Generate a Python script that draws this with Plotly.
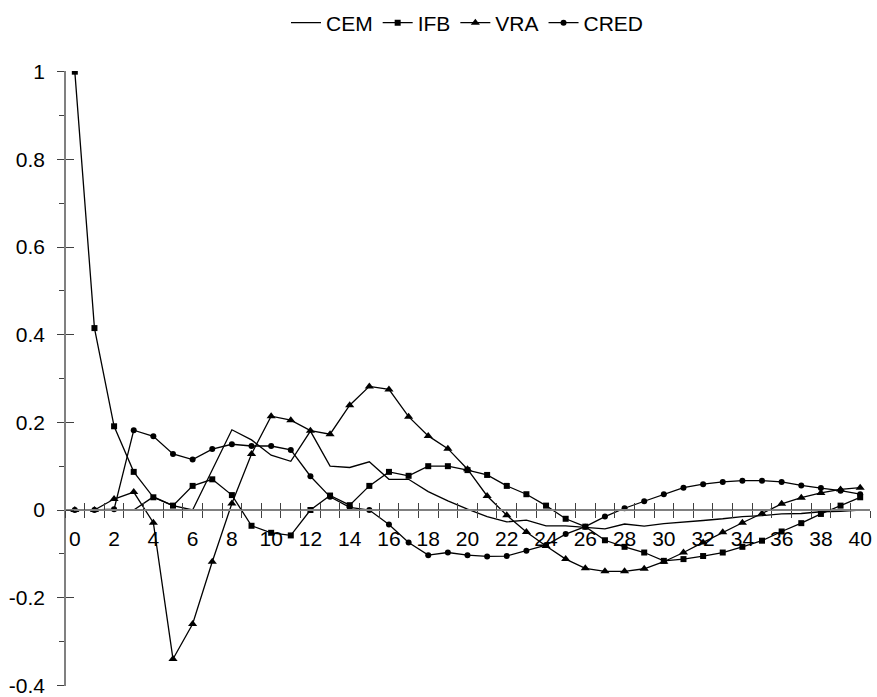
import plotly.graph_objects as go

# Impulse responses over 40 periods
lags = list(range(41))

cem = [0.0, 0.0, 0.0, 0.0, 0.03, 0.01, 0.0, 0.09, 0.183, 0.16,
       0.125, 0.111, 0.18, 0.1, 0.097, 0.11, 0.07, 0.07, 0.042, 0.021,
       0.002, -0.015, -0.027, -0.023, -0.036, -0.036, -0.04, -0.043, -0.032, -0.037,
       -0.031, -0.028, -0.024, -0.02, -0.015, -0.013, -0.009, -0.008, -0.004, -0.003,
       0.0]

ifb = [1.0, 0.415, 0.191, 0.087, 0.029, 0.01, 0.055, 0.07, 0.034, -0.036,
       -0.052, -0.058, 0.0, 0.033, 0.011, 0.055, 0.087, 0.078, 0.1, 0.1,
       0.091, 0.08, 0.055, 0.036, 0.01, -0.02, -0.038, -0.069, -0.084, -0.097,
       -0.116, -0.112, -0.105, -0.097, -0.084, -0.07, -0.049, -0.03, -0.009, 0.01,
       0.029]

vra = [0.0, 0.0, 0.025, 0.041, -0.029, -0.34, -0.26, -0.118, 0.015, 0.128,
       0.214, 0.205, 0.181, 0.173, 0.239, 0.282, 0.275, 0.213, 0.169, 0.14,
       0.093, 0.032, -0.012, -0.05, -0.082, -0.112, -0.133, -0.14, -0.14, -0.134,
       -0.118, -0.097, -0.074, -0.051, -0.029, -0.008, 0.014, 0.028, 0.039, 0.047,
       0.051]

cred = [0.0, 0.0, 0.002, 0.182, 0.168, 0.128, 0.115, 0.139, 0.15, 0.146,
        0.146, 0.137, 0.077, 0.03, 0.006, 0.0, -0.033, -0.074, -0.103, -0.097,
        -0.103, -0.106, -0.105, -0.093, -0.08, -0.055, -0.038, -0.015, 0.004, 0.02,
        0.036, 0.051, 0.059, 0.064, 0.067, 0.067, 0.064, 0.056, 0.05, 0.044,
        0.036]

x_labels = list(range(0, 41, 2))
x_bounds = [k - 0.5 for k in range(0, 42)]
y_major = [-0.4, -0.2, 0.0, 0.2, 0.4, 0.6, 0.8, 1.0]
y_major_text = ["-0.4", "-0.2", "0", "0.2", "0.4", "0.6", "0.8", "1"]

Y_MIN, Y_MAX = -0.4, 1.0
PAD = 0.0015
X_MIN, X_MAX = -0.5, 40.5
FONT = dict(family="Liberation Sans, Arial, sans-serif", size=21, color="black")
AXIS_GRAY = "#808080"
TICK_GRAY = "#404040"

fig = go.Figure()
series = [
    ("CEM", cem, None, 0),
    ("IFB", ifb, "square", 6),
    ("VRA", vra, "triangle-up", 8),
    ("CRED", cred, "circle", 6),
]
for name, vals, sym, size in series:
    trace = dict(x=lags, y=vals, name=name, line=dict(color="black", width=1.3))
    if sym is None:
        trace["mode"] = "lines"
    else:
        trace["mode"] = "lines+markers"
        trace["marker"] = dict(symbol=sym, size=size, color="black")
    fig.add_trace(go.Scatter(**trace))

# empty carriers so the overlaid tick axes get drawn
blank = [None] * len(lags)
for xa, ya in (("x2", "y"), ("x3", "y"), ("x", "y2")):
    fig.add_trace(go.Scatter(x=lags, y=blank, xaxis=xa, yaxis=ya, mode="lines",
                             showlegend=False, hoverinfo="skip"))

y_range = [Y_MIN - PAD, Y_MAX + PAD]
# horizontal axis crosses at y = 0
zero_pos = (0 - y_range[0]) / (y_range[1] - y_range[0])

common_x = dict(range=[X_MIN, X_MAX], showgrid=False, zeroline=False)

fig.update_layout(
    width=877, height=697,
    margin=dict(l=65, r=7, t=71, b=11, autoexpand=False),
    paper_bgcolor="white", plot_bgcolor="white",
    font=FONT,
    showlegend=True,
    legend=dict(orientation="h", x=0.5, xanchor="center", y=1.078, yanchor="middle",
                font=FONT, bgcolor="rgba(0,0,0,0)", itemwidth=30, tracegroupgap=0),
    xaxis=dict(**common_x, anchor="free", position=zero_pos,
               showline=True, linecolor=AXIS_GRAY, linewidth=1.5,
               tickmode="array", tickvals=x_bounds, ticks="outside",
               ticklen=7, tickwidth=1, tickcolor=TICK_GRAY, showticklabels=False),
    xaxis2=dict(**common_x, overlaying="x", anchor="free", position=zero_pos,
                showline=False, tickmode="array", tickvals=x_bounds,
                ticks="inside", ticklen=7, tickwidth=1, tickcolor=TICK_GRAY,
                showticklabels=False),
    xaxis3=dict(**common_x, overlaying="x", anchor="free", position=zero_pos,
                showline=False, tickmode="array", tickvals=x_labels,
                ticktext=[str(v) for v in x_labels], ticks="",
                ticklabelstandoff=14, tickfont=FONT),
    yaxis=dict(range=y_range, showgrid=False, zeroline=False,
               anchor="free", position=0,
               showline=True, linecolor=AXIS_GRAY, linewidth=1.5,
               tickmode="array", tickvals=y_major, ticktext=y_major_text,
               ticks="outside", ticklen=7, tickwidth=1, tickcolor=TICK_GRAY,
               tickfont=FONT, ticklabelstandoff=8,
               minor=dict(dtick=0.1, tick0=0, ticks="outside", ticklen=5,
                          tickwidth=1, tickcolor=TICK_GRAY, showgrid=False)),
    yaxis2=dict(range=y_range, overlaying="y", showgrid=False, zeroline=False,
                anchor="free", position=0, side="left", showline=False,
                tickmode="array", tickvals=y_major, ticks="inside",
                ticklen=8, tickwidth=1, tickcolor=TICK_GRAY, showticklabels=False),
)

fig.write_html("out.html")
